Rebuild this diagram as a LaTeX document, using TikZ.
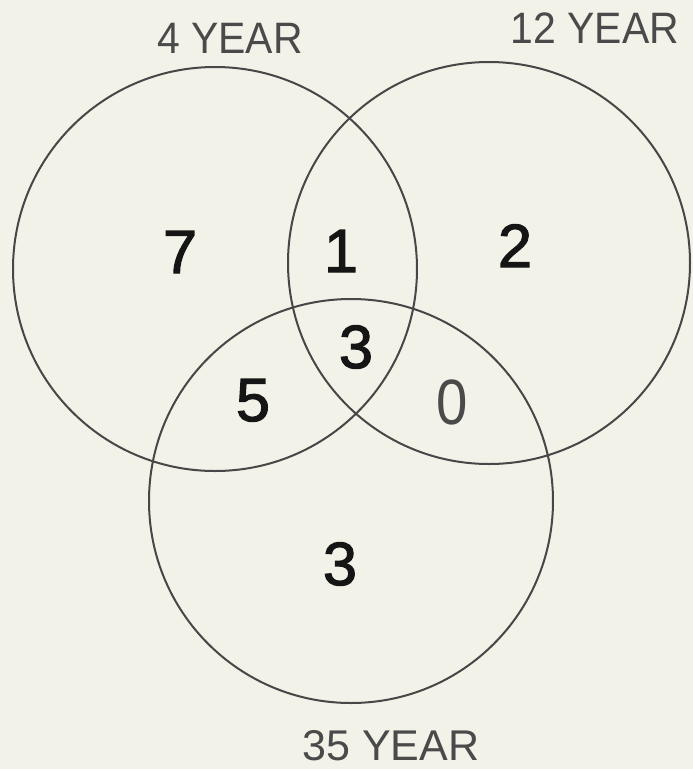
\documentclass[tikz,border=0pt]{standalone}
\usepackage{fontspec}
\setmainfont{Liberation Sans}
\newfontfamily\lblfont[FakeStretch=0.93]{Liberation Sans}
\newfontfamily\lblwidefont{Liberation Sans}
\newfontfamily\numfont[FakeBold=2]{Liberation Sans}
\newfontfamily\zerofont[FakeStretch=0.88]{Liberation Sans}
\definecolor{paper}{HTML}{F3F2E9}
\definecolor{linegray}{HTML}{474747}
\definecolor{labelgray}{HTML}{4A4A4A}
\definecolor{numblack}{HTML}{151515}
\begin{document}
\begin{tikzpicture}[x=1pt,y=-1pt,
  ring/.style={draw=linegray, line width=2pt},
  lbl/.style={font=\lblfont\fontsize{44}{44}\selectfont, text=labelgray, anchor=base, inner sep=0pt},
  lblwide/.style={font=\lblwidefont\fontsize{43}{43}\selectfont, text=labelgray, anchor=base, inner sep=0pt},
  num/.style={font=\numfont\fontsize{61}{61}\selectfont, text=numblack, anchor=base, inner sep=0pt},
  zero/.style={font=\zerofont\fontsize{64}{64}\selectfont, text=labelgray, anchor=base, inner sep=0pt}]
  \fill[paper] (0,0) rectangle (693,769);
  \useasboundingbox (0,0) rectangle (693,769);
  % circles
  \draw[ring] (215,269) circle[radius=202];
  \draw[ring] (489,263) circle[radius=201];
  \draw[ring] (351,501) circle[radius=202];
  % set labels
  \node[lbl]     (l4)  at (230,53)  {4 YEAR};
  \node[lbl]     (l12) at (595,43)  {12 YEAR};
  \node[lblwide] (l35) at (391,760) {35 YEAR};
  % region counts
  \node[num]  (n7)  at (180,273) {7};
  \node[num]  (n1)  at (341,272) {1};
  \node[num]  (n2)  at (515,267) {2};
  \node[num]  (n3a) at (356,368) {3};
  \node[num]  (n5)  at (253,421) {5};
  \node[zero] (n0)  at (452,424) {0};
  \node[num]  (n3b) at (340,585) {3};
\end{tikzpicture}
\end{document}
